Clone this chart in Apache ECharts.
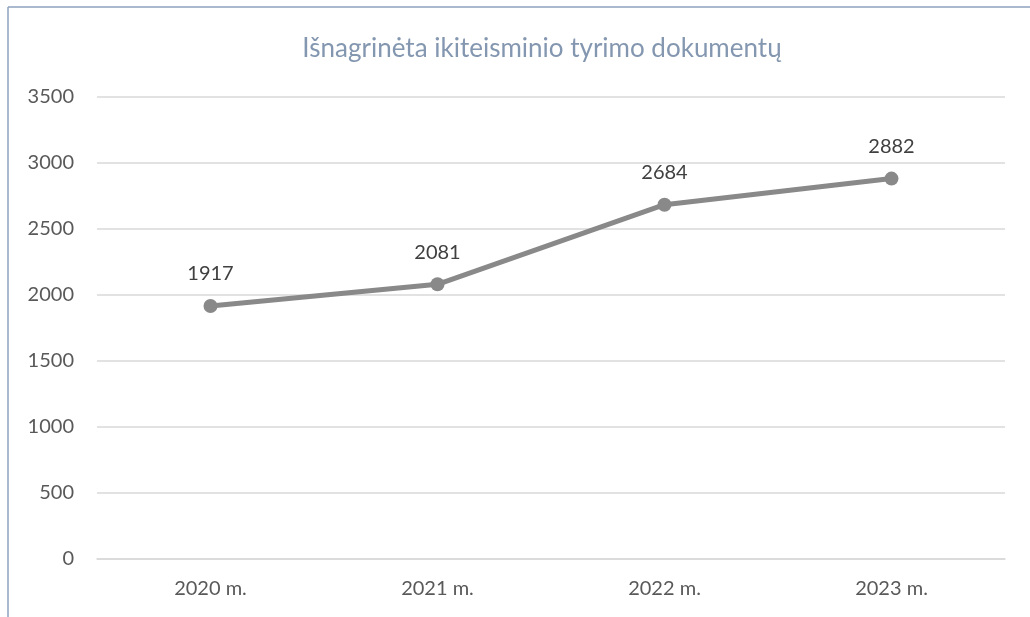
<!DOCTYPE html>
<html>
<head>
<meta charset="utf-8">
<script src="https://cdn.jsdelivr.net/npm/echarts@6/dist/echarts.min.js"></script>
<style>
  html, body { margin: 0; padding: 0; background: #fff; }
  #myChart { width: 1030px; height: 617px; }
</style>
</head>
<body>
<div id="myChart"></div>
<script type="text/javascript">
  // chart data
  var titleText = "Išnagrinėta ikiteisminio tyrimo dokumentų";
  var years = ["2020 m.", "2021 m.", "2022 m.", "2023 m."];
  var documents = [1917, 2081, 2684, 2882];

  var fontName = "Lato, 'Open Sans', sans-serif";
  var myChart = echarts.init(document.getElementById("myChart"));

  var option = {
    backgroundColor: "#ffffff",
    animation: false,
    title: {
      text: titleText,
      left: 537,
      textAlign: "center",
      top: 31,
      textStyle: {
        color: "#8497b0",
        fontSize: 26,
        fontWeight: "normal",
        fontFamily: fontName
      }
    },
    // frame edges (top and left) like the original embedded chart
    graphic: [
      {
        type: "line",
        shape: { x1: 8, y1: 7, x2: 1030, y2: 7 },
        style: { stroke: "#8ea2bd", lineWidth: 1.5 }
      },
      {
        type: "line",
        shape: { x1: 8, y1: 7, x2: 8, y2: 617 },
        style: { stroke: "#8ea2bd", lineWidth: 1.5 }
      }
    ],
    grid: {
      left: 97,
      right: 25,
      top: 97,
      bottom: 58,
      containLabel: false
    },
    xAxis: {
      type: "category",
      data: years,
      boundaryGap: true,
      axisLine: { lineStyle: { color: "#d9d9d9", width: 1.5 } },
      axisTick: { show: false },
      axisLabel: {
        color: "#595959",
        fontSize: 20,
        fontFamily: fontName,
        margin: 20
      }
    },
    yAxis: {
      type: "value",
      min: 0,
      max: 3500,
      interval: 500,
      axisLine: { show: false },
      axisTick: { show: false },
      axisLabel: {
        color: "#595959",
        fontSize: 20,
        fontFamily: fontName,
        margin: 23,
        formatter: function (v) { return String(v); }
      },
      splitLine: { lineStyle: { color: "#d9d9d9", width: 1.5 } }
    },
    series: [
      {
        type: "line",
        data: documents,
        symbol: "circle",
        symbolSize: 14,
        lineStyle: { color: "#898989", width: 5 },
        itemStyle: { color: "#898989" },
        label: {
          show: true,
          position: "top",
          distance: 15,
          color: "#404040",
          fontSize: 20,
          fontFamily: fontName
        }
      }
    ]
  };

  option && myChart.setOption(option);
</script>
</body>
</html>
